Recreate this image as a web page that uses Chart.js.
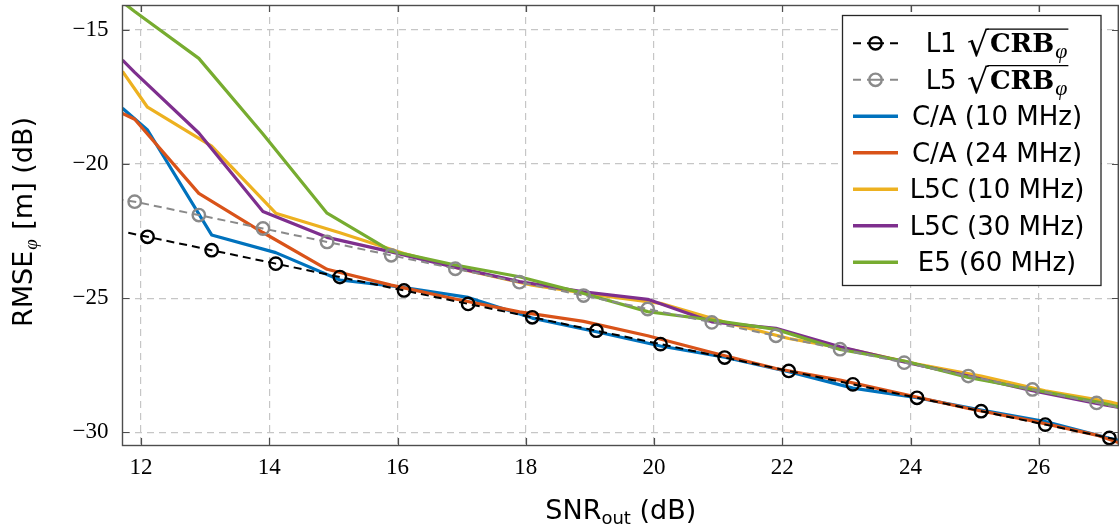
<!DOCTYPE html>
<html>
<head>
<meta charset="utf-8">
<script src="https://cdn.jsdelivr.net/npm/chart.js@4.4.1/dist/chart.umd.min.js"></script>
<style>
html,body{margin:0;padding:0;background:#fff;}
#wrap{width:1119px;height:527px;position:relative;}
</style>
</head>
<body>
<div id="wrap"><canvas id="c" width="1119" height="527"></canvas></div>
<script>
// ---- data ----
const xTicks = [12, 14, 16, 18, 20, 22, 24, 26];
const yTicks = [-30, -25, -20, -15];
const seriesLabels = ['L1', 'L5', 'C/A (10 MHz)', 'C/A (24 MHz)', 'L5C (10 MHz)', 'L5C (30 MHz)', 'E5 (60 MHz)'];

const snrL1Crb  = [11.8, 12.1, 13.1, 14.1, 15.1, 16.1, 17.1, 18.1, 19.1, 20.1, 21.1, 22.1, 23.1, 24.1, 25.1, 26.1, 27.1, 27.4];
const rmseL1Crb = [-22.56, -22.71, -23.21, -23.71, -24.21, -24.71, -25.21, -25.71, -26.21, -26.71, -27.21, -27.71, -28.21, -28.71, -29.21, -29.71, -30.21, -30.36];

const snrL5Crb  = [11.6, 11.9, 12.9, 13.9, 14.9, 15.9, 16.9, 17.9, 18.9, 19.9, 20.9, 21.9, 22.9, 23.9, 24.9, 25.9, 26.9, 27.4];
const rmseL5Crb = [-21.3, -21.4, -21.9, -22.4, -22.9, -23.4, -23.9, -24.4, -24.9, -25.4, -25.9, -26.4, -26.9, -27.4, -27.9, -28.4, -28.9, -29.15];

const snrGridA = [11.71, 12.1, 13.1, 14.1, 15.1, 16.1, 17.1, 18.1, 19.1, 20.1, 21.1, 22.1, 23.1, 24.1, 25.1, 26.1, 27.1, 27.25];
const snrGridB = [11.71, 11.9, 12.9, 13.9, 14.9, 15.9, 16.9, 17.9, 18.9, 19.9, 20.9, 21.9, 22.9, 23.9, 24.9, 25.9, 26.9, 27.25];

const rmseCA10  = [-17.92, -18.73, -22.64, -23.30, -24.32, -24.60, -24.97, -25.74, -26.25, -26.78, -27.20, -27.74, -28.35, -28.71, -29.17, -29.60, -30.22, -30.30];
const rmseCA24  = [-18.11, -18.33, -21.09, -22.55, -23.92, -24.51, -25.03, -25.51, -25.86, -26.40, -27.02, -27.62, -28.05, -28.58, -29.11, -29.57, -30.10, -30.39];
const rmseL5C10 = [-16.55, -17.88, -19.33, -21.83, -22.56, -23.33, -23.97, -24.51, -24.88, -25.19, -25.89, -26.50, -26.93, -27.45, -27.90, -28.45, -28.86, -28.95];
const rmseL5C30 = [-16.12, -16.58, -18.84, -21.77, -22.73, -23.27, -23.85, -24.38, -24.76, -25.04, -25.88, -26.12, -26.81, -27.37, -27.90, -28.45, -28.92, -29.07];
const rmseE5    = [-13.96, -14.31, -16.06, -18.88, -21.83, -23.24, -23.76, -24.20, -24.82, -25.50, -25.81, -26.16, -26.91, -27.34, -27.95, -28.40, -28.86, -29.05];

// ---- helpers ----
function pts(xs, ys) { return xs.map((x, i) => ({x: x, y: ys[i]})); }
function innerMarkers(n, r) { return Array.from({length: n}, (_, i) => (i === 0 || i === n - 1) ? 0 : r); }

const COLORS = {
  l1: '#000000', l5: '#8a8a8a',
  ca10: '#0072BD', ca24: '#D95319', l5c10: '#EDB120', l5c30: '#7E2F8E', e5: '#77AC30'
};

function solid(label, xs, ys, color, order) {
  return {label, data: pts(xs, ys), borderColor: color, backgroundColor: color,
    borderWidth: 3.2, pointRadius: 0, tension: 0, order: order, fill: false,
    borderJoinStyle: 'round', crb: false};
}
function crb(label, xs, ys, color, order) {
  return {label, data: pts(xs, ys), borderColor: color, backgroundColor: 'rgba(0,0,0,0)',
    borderWidth: 2, borderDash: [8, 5], pointRadius: innerMarkers(xs.length, 6.2),
    pointBorderWidth: 2.4, pointBorderColor: color, pointBackgroundColor: 'rgba(0,0,0,0)',
    pointStyle: 'circle', tension: 0, order: order, fill: false, crb: true};
}

const datasets = [
  crb(seriesLabels[0], snrL1Crb, rmseL1Crb, COLORS.l1, 0),
  crb(seriesLabels[1], snrL5Crb, rmseL5Crb, COLORS.l5, 1),
  solid(seriesLabels[2], snrGridA, rmseCA10, COLORS.ca10, 6),
  solid(seriesLabels[3], snrGridB, rmseCA24, COLORS.ca24, 5),
  solid(seriesLabels[4], snrGridA, rmseL5C10, COLORS.l5c10, 4),
  solid(seriesLabels[5], snrGridB, rmseL5C30, COLORS.l5c30, 3),
  solid(seriesLabels[6], snrGridB, rmseE5, COLORS.e5, 2)
];

const FRAME = '#4d4d4d';
const SANS = '"DejaVu Sans", sans-serif';
const SERIF = '"Liberation Serif", serif';

// ---- custom decorations: frame, inner ticks, axis titles, legend ----
const decor = {
  id: 'decor',
  afterDraw(chart) {
    const ctx = chart.ctx;
    const a = chart.chartArea;
    const xs = chart.scales.x, ys = chart.scales.y;
    ctx.save();
    // frame
    ctx.strokeStyle = FRAME; ctx.lineWidth = 1.4; ctx.setLineDash([]);
    ctx.strokeRect(a.left, a.top + 0.5, a.right - a.left - 0.7, a.bottom - a.top);
    // inner ticks
    const tl = 7;
    ctx.beginPath();
    xTicks.forEach(v => {
      const p = Math.round(xs.getPixelForValue(v)) + 0.5;
      ctx.moveTo(p, a.bottom); ctx.lineTo(p, a.bottom - tl);
      ctx.moveTo(p, a.top); ctx.lineTo(p, a.top + tl);
    });
    yTicks.forEach(v => {
      const p = Math.round(ys.getPixelForValue(v)) + 0.5;
      ctx.moveTo(a.left, p); ctx.lineTo(a.left + tl, p);
      ctx.moveTo(a.right, p); ctx.lineTo(a.right - tl, p);
    });
    ctx.lineWidth = 1.2; ctx.stroke();

    // x title: SNR_out (dB)
    ctx.fillStyle = '#000';
    ctx.textBaseline = 'alphabetic'; ctx.textAlign = 'left';
    const fMain = '27px ' + SANS, fSub = '18px ' + SANS;
    ctx.font = fMain; const w1 = ctx.measureText('SNR').width;
    ctx.font = fSub; const w2 = ctx.measureText('out').width;
    ctx.font = fMain; const w3 = ctx.measureText(' (dB)').width;
    let cx = (a.left + a.right) / 2 - (w1 + w2 + w3) / 2;
    const by = 519;
    ctx.font = fMain; ctx.fillText('SNR', cx, by); cx += w1;
    ctx.font = fSub; ctx.fillText('out', cx, by + 5); cx += w2;
    ctx.font = fMain; ctx.fillText(' (dB)', cx, by);

    // y title: RMSE_phi [m] (dB), rotated
    ctx.save();
    ctx.translate(32, (a.top + a.bottom) / 2 - 3);
    ctx.rotate(-Math.PI / 2);
    const fPhi = 'italic 19px ' + SERIF;
    ctx.font = fMain; const r1 = ctx.measureText('RMSE').width;
    ctx.font = fPhi; const r2 = ctx.measureText('φ').width + 2;
    ctx.font = fMain; const r3 = ctx.measureText(' [m] (dB)').width;
    let rx = -(r1 + r2 + r3) / 2;
    ctx.font = fMain; ctx.fillText('RMSE', rx, 0); rx += r1;
    ctx.font = fPhi; ctx.fillText('φ', rx + 1, 5); rx += r2;
    ctx.font = fMain; ctx.fillText(' [m] (dB)', rx, 0);
    ctx.restore();

    // legend
    const L = {left: 842.5, top: 15.5, right: 1101, bottom: 285.5};
    ctx.fillStyle = '#fff';
    ctx.fillRect(L.left, L.top, L.right - L.left, L.bottom - L.top);
    ctx.strokeStyle = '#262626'; ctx.lineWidth = 1.3;
    ctx.strokeRect(L.left, L.top, L.right - L.left, L.bottom - L.top);
    const rowY0 = 43.3, rowDy = 36.5, sx0 = 853, sx1 = 898, textCx = 997;
    chart.data.datasets.forEach((ds, i) => {
      const cy = rowY0 + i * rowDy;
      if (ds.crb) {
        ctx.strokeStyle = ds.borderColor; ctx.lineWidth = 2; ctx.setLineDash([]);
        ctx.beginPath();
        ctx.moveTo(sx0, cy); ctx.lineTo(sx0 + 8, cy);
        ctx.moveTo(sx0 + 14, cy); ctx.lineTo(sx1 - 14, cy);
        ctx.moveTo(sx1 - 8, cy); ctx.lineTo(sx1, cy);
        ctx.stroke();
        ctx.lineWidth = 2.4;
        ctx.beginPath(); ctx.arc((sx0 + sx1) / 2, cy, 6.2, 0, Math.PI * 2); ctx.stroke();
        drawCrbText(ctx, ds.label, textCx, cy);
      } else {
        ctx.strokeStyle = ds.borderColor; ctx.lineWidth = 3.5; ctx.setLineDash([]);
        ctx.beginPath(); ctx.moveTo(sx0, cy); ctx.lineTo(sx1, cy); ctx.stroke();
        ctx.fillStyle = '#000'; ctx.font = '26px ' + SANS;
        ctx.textAlign = 'center'; ctx.textBaseline = 'alphabetic';
        ctx.fillText(ds.label, textCx, cy + 9);
        ctx.textAlign = 'left';
      }
    });
    ctx.restore();
  }
};

function drawCrbText(ctx, prefix, cx, cy) {
  const fPre = '26px ' + SANS;
  const fRad = '34px "DejaVu Serif"';
  const fBold = 'bold 26px "DejaVu Serif"';
  const fSub = 'italic 22px ' + SERIF;
  ctx.textAlign = 'left'; ctx.textBaseline = 'alphabetic'; ctx.fillStyle = '#000';
  ctx.font = fPre; const wP = ctx.measureText(prefix + ' ').width;
  ctx.font = fRad; const mR = ctx.measureText('√'); const wR = mR.actualBoundingBoxRight;
  ctx.font = fBold; const wC = ctx.measureText('CRB').width;
  ctx.font = fSub; const wS = ctx.measureText('φ').width;
  const total = wP + 2 + wR + 1 + wC + wS + 2;
  let x = cx - total / 2;
  const base = cy + 9;
  ctx.font = fPre; ctx.fillText(prefix, x, base); x += wP + 2;
  ctx.font = fRad; ctx.fillText('√', x, base + 4);
  const topY = base + 4 - mR.actualBoundingBoxAscent + 0.8;
  const barStart = x + mR.actualBoundingBoxRight - 1.5;
  x += wR + 1;
  ctx.font = fBold; ctx.fillText('CRB', x, base); x += wC;
  ctx.font = fSub; ctx.fillText('φ', x + 1, base + 6); x += wS + 2;
  ctx.strokeStyle = ctx.fillStyle; ctx.lineWidth = 1.4;
  ctx.beginPath(); ctx.moveTo(barStart, topY); ctx.lineTo(x, topY); ctx.stroke();
}

new Chart(document.getElementById('c'), {
  type: 'line',
  data: {datasets: datasets},
  options: {
    responsive: false,
    animation: false,
    devicePixelRatio: 1,
    events: [],
    layout: {autoPadding: false, padding: {top: 5, left: 0, right: 0, bottom: 0}},
    plugins: {legend: {display: false}, tooltip: {enabled: false}},
    scales: {
      x: {
        type: 'linear', min: 11.71, max: 27.25,
        afterBuildTicks: s => { s.ticks = xTicks.map(v => ({value: v})); },
        afterFit: s => { s.height = 82; s.paddingLeft = 0; s.paddingRight = 0; },
        grid: {color: '#c6c6c6', lineWidth: 1.2, drawTicks: false},
        border: {display: false, dash: [7, 5]},
        ticks: {font: {family: SERIF, size: 23}, color: '#000', padding: 9, maxRotation: 0,
          callback: v => String(v)}
      },
      y: {
        type: 'linear', min: -30.47, max: -14.07,
        afterBuildTicks: s => { s.ticks = yTicks.map(v => ({value: v})); },
        afterFit: s => { s.width = 122.5; s.paddingTop = 0; s.paddingBottom = 0; },
        grid: {color: '#c6c6c6', lineWidth: 1.2, drawTicks: false},
        border: {display: false, dash: [7, 5]},
        ticks: {font: {family: SERIF, size: 23}, color: '#000', padding: 14,
          callback: v => (v < 0 ? '\u2212' : '') + Math.abs(v)}
      }
    }
  },
  plugins: [decor]
});
</script>
</body>
</html>
